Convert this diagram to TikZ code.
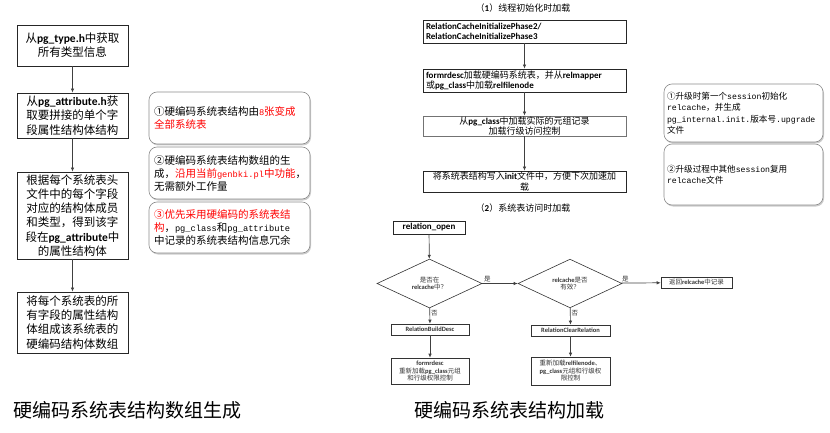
\documentclass[tikz,border=0pt]{standalone}
\usepackage{fontspec}
\usepackage{xcolor}
\usetikzlibrary{shapes.geometric,shadows,arrows.meta}
\setmainfont{Noto Sans CJK SC}
\newfontfamily\calfont{Carlito}
\newfontfamily\mnfont[Scale=0.95]{Liberation Mono}
\newfontfamily\mnnarrow[Scale=0.83]{Liberation Mono}
\newcommand{\bl}[1]{{\calfont\bfseries #1}}
\newcommand{\mr}[1]{{\mnfont #1}}
\newcommand{\mn}[1]{{\mnnarrow #1}}
\definecolor{notered}{HTML}{FF0000}
\definecolor{notegray}{HTML}{8C8C8C}

\begin{document}
\begin{tikzpicture}[x=1pt, y=-1pt, >={Latex[length=4pt,width=3.5pt]},
    flowbox/.style={draw=black!85, line width=0.8pt, align=center, inner sep=2pt, minimum width=111pt, font=\fontsize{11.5}{14.2}\selectfont},
    note/.style={draw=notegray, rounded corners=8pt, fill=white, line width=0.6pt, align=left, drop shadow={shadow xshift=1pt, shadow yshift=-1.5pt, fill=black!40}},
    midnote/.style={note, text width=151pt, inner sep=5pt, font=\fontsize{10.5}{13}\selectfont},
    sidenote/.style={note, text width=153pt, inner sep=3pt, font=\fontsize{8.6}{11.5}\selectfont},
    loadbox/.style={draw=black!85, line width=0.8pt, text width=197pt, inner xsep=3pt, inner ysep=1pt, align=center, font=\fontsize{9}{10.5}\selectfont},
    smallbox/.style={draw=black!80, line width=0.6pt, minimum width=78pt, minimum height=11pt, inner sep=1pt, align=center, text=black!80, font=\fontsize{6.5}{7.5}\selectfont},
    decide/.style={diamond, draw=black!80, line width=0.6pt, minimum width=105pt, minimum height=37pt, inner sep=0pt, align=center, text=black!80, font=\fontsize{6.5}{7.5}\selectfont},
    flowline/.style={draw=black!75, line width=0.7pt},
    yesno/.style={inner sep=1pt, text=black!80, font=\fontsize{6.5}{7.5}\selectfont},
    caption/.style={anchor=west, inner sep=0pt, font=\fontsize{19}{22}\selectfont}]
  \useasboundingbox (0,0) rectangle (830,433);

  \node[flowbox, minimum height=41pt] (type) at (72.5,45.5) {从\bl{pg\_type.h}中获取\\所有类型信息};
  \node[flowbox, minimum height=45pt] (attr) at (72.5,115.5) {从\bl{pg\_attribute.h}获\\取要拼接的单个字\\段属性结构体结构};
  \node[flowbox, minimum height=87pt] (each) at (72.5,215.5) {根据每个系统表头\\文件中的每个字段\\对应的结构体成员\\和类型，得到该字\\段在\bl{pg\_attribute}中\\的属性结构体};
  \node[flowbox, minimum height=61pt] (array) at (72.5,322.5) {将每个系统表的所\\有字段的属性结构\\体组成该系统表的\\硬编码结构体数组};

  \draw[flowline, ->] (type) -- (attr);
  \draw[flowline, ->] (attr) -- (each);
  \draw[flowline, ->] (each) -- (array);

  \node[midnote, minimum height=52pt] (n1) at (229.5,118) {①硬编码系统表结构由\textcolor{notered}{\mn{8}张变成}\\\textcolor{notered}{全部系统表}};
  \node[midnote, minimum height=52pt] (n2) at (229.5,173) {②硬编码系统表结构数组的生\\成，\textcolor{notered}{沿用当前\mn{genbki.pl}中功能}，\\无需额外工作量};
  \node[midnote, minimum height=51pt] (n3) at (229.5,227.5) {\textcolor{notered}{③优先采用硬编码的系统表结}\\\textcolor{notered}{构}，\mn{pg\_class}和\mn{pg\_attribute}\\中记录的系统表结构信息冗余};

  \node[font=\fontsize{9}{11}\selectfont] (t1) at (523,8) {（\bl{1}）线程初始化时加载};
  \node[loadbox, align=left, minimum height=23pt] (phase) at (524.5,31.5) {\bl{RelationCacheInitializePhase2/}\\\bl{RelationCacheInitializePhase3}};
  \node[loadbox, align=left, minimum height=23pt] (formr) at (524.5,80.5) {\bl{formrdesc}加载硬编码系统表，并从\bl{relmapper}\\或\bl{pg\_class}中加载\bl{relfilenode}};
  \node[loadbox, draw=black!55, minimum height=19pt, font=\fontsize{9}{9.8}\selectfont] (tuple) at (524.5,126) {从\bl{pg\_class}中加载实际的元组记录\\加载行级访问控制};
  \node[loadbox, minimum height=21pt] (initf) at (524.5,181.5) {将系统表结构写入\bl{init}文件中，方便下次加速加\\载};

  \draw[flowline, ->] (phase) -- (formr);
  \draw[flowline, ->] (formr) -- (tuple);
  \draw[flowline, ->] (tuple) -- (initf);

  \node[sidenote, minimum height=58pt] (r1) at (743.5,113) {①升级时第一个\mr{session}初始化\\\mr{relcache}，并生成\\\mr{pg\_internal.init.}版本号\mr{.upgrade}\\文件};
  \node[sidenote, minimum height=61pt] (r2) at (743.5,174.5) {②升级过程中其他\mr{session}复用\\\mr{relcache}文件};

  \node[font=\fontsize{9}{11}\selectfont] (t2) at (523,208) {（\bl{2}）系统表访问时加载};
  \node[draw=black!85, line width=0.8pt, minimum width=72pt, minimum height=13pt, inner sep=1pt, font=\fontsize{9}{10}\selectfont] (open) at (429,227.5) {\bl{relation\_open}};
  \node[decide] (incache) at (429.5,283.5) {是否在\\\bl{relcache}中？};
  \node[decide, minimum width=104pt] (valid) at (570,283.5) {\bl{relcache}是否\\有效？};
  \node[smallbox, minimum width=71pt] (ret) at (696.5,282.5) {返回\bl{relcache}中记录};
  \node[smallbox] (build) at (430,329.5) {\bl{RelationBuildDesc}};
  \node[smallbox, minimum height=26pt] (formr2) at (430,371) {\bl{formrdesc}\\重新加载\bl{pg\_class}元组\\和行级权限控制};
  \node[smallbox, minimum width=79pt] (clear) at (570.5,330.5) {\bl{RelationClearRelation}};
  \node[smallbox, minimum width=79pt, minimum height=28pt] (reload) at (570.5,371) {重新加载\bl{relfilenode}、\\\bl{pg\_class}元组和行级权\\限控制};

  \draw[flowline, ->] (open) -- (incache);
  \draw[flowline, ->] (incache) -- node[yesno, above, pos=0.14] {是} (valid);
  \draw[flowline, ->] (incache) -- node[yesno, right, pos=0.32] {否} (build);
  \draw[flowline, ->] (build) -- (formr2);
  \draw[flowline, ->] (valid) -- node[yesno, above, pos=0.1] {是} (ret);
  \draw[flowline, ->] (valid) -- node[yesno, right, pos=0.32] {否} (clear);
  \draw[flowline, ->] (clear) -- (reload);

  \node[caption] (cap1) at (13,410) {硬编码系统表结构数组生成};
  \node[caption] (cap2) at (414,410) {硬编码系统表结构加载};
\end{tikzpicture}
\end{document}
